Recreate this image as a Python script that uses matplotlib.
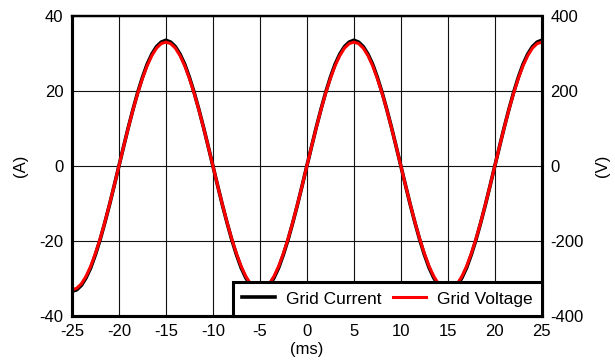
import numpy as np
import matplotlib.pyplot as plt

plt.rcParams['font.family'] = ['Liberation Sans', 'DejaVu Sans']
plt.rcParams['axes.unicode_minus'] = False

# time axis (ms), 0.5 ms steps
t_ms = np.arange(-25, 25.01, 0.5)

# grid voltage (V)
v_grid = [-330, -326, -314, -294, -267, -233, -194, -150, -102, -52,
          0, 52, 102, 150, 194, 233, 267, 294, 314, 326,
          330, 326, 314, 294, 267, 233, 194, 150, 102, 52,
          0, -52, -102, -150, -194, -233, -267, -294, -314, -326,
          -330, -326, -314, -294, -267, -233, -194, -150, -102, -52,
          0, 52, 102, 150, 194, 233, 267, 294, 314, 326,
          330, 326, 314, 294, 267, 233, 194, 150, 102, 52,
          0, -52, -102, -150, -194, -233, -267, -294, -314, -326,
          -330, -326, -314, -294, -267, -233, -194, -150, -102, -52,
          0, 52, 102, 150, 194, 233, 267, 294, 314, 326,
          330]

# grid current (A) (slightly flat-topped)
i_grid = [-33.4, -33.0, -31.8, -29.8, -27.1, -23.6, -19.6, -15.1, -10.3, -5.2,
          0, 5.2, 10.3, 15.1, 19.6, 23.6, 27.1, 29.8, 31.8, 33.0,
          33.5, 33.0, 31.8, 29.8, 27.1, 23.6, 19.6, 15.1, 10.3, 5.2,
          0, -5.2, -10.3, -15.1, -19.6, -23.6, -27.1, -29.8, -31.8, -33.0,
          -33.5, -33.0, -31.8, -29.8, -27.1, -23.6, -19.6, -15.1, -10.3, -5.2,
          0, 5.2, 10.3, 15.1, 19.6, 23.6, 27.1, 29.8, 31.8, 33.0,
          33.5, 33.0, 31.8, 29.8, 27.1, 23.6, 19.6, 15.1, 10.3, 5.2,
          0, -5.2, -10.3, -15.1, -19.6, -23.6, -27.1, -29.8, -31.8, -33.0,
          -33.5, -33.0, -31.8, -29.8, -27.1, -23.6, -19.6, -15.1, -10.3, -5.2,
          0, 5.2, 10.3, 15.1, 19.6, 23.6, 27.1, 29.8, 31.8, 33.0,
          33.5]

fig = plt.figure(figsize=(6.15, 3.6), dpi=100)
ax = fig.add_axes([0.117, 0.122, 0.764, 0.834])
ax2 = ax.twinx()

ax.set_xlim(-25, 25)
ax.set_ylim(-40, 40)
ax2.set_ylim(-400, 400)
ax.set_xticks(np.arange(-25, 26, 5))
ax.set_yticks(np.arange(-40, 41, 20))
ax2.set_yticks(np.arange(-400, 401, 200))

ax.grid(True, color='#111111', linewidth=0.8)
ax.set_axisbelow(True)

l1, = ax.plot(t_ms, i_grid, color='black', linewidth=2.6, label='Grid Current')
l2, = ax2.plot(t_ms, v_grid, color='#ff0000', linewidth=2.2, label='Grid Voltage')

for a in (ax, ax2):
    for s in a.spines.values():
        s.set_linewidth(2.2)
    a.spines['top'].set_linewidth(1.6)
    a.tick_params(length=0, pad=6, labelsize=12)

ax.set_ylabel('(A)', fontsize=12, labelpad=8)
ax2.set_ylabel('(V)', fontsize=12, labelpad=8)
ax.set_xlabel('(ms)', fontsize=12, labelpad=2)

leg = ax2.legend(handles=[l1, l2], loc='lower right', ncol=2, borderaxespad=0,
                 fancybox=False, edgecolor='black', framealpha=1, fontsize=12.5,
                 handlelength=1.9, handletextpad=0.6, columnspacing=0.7,
                 borderpad=0.55)
leg.get_frame().set_linewidth(2.2)

fig.savefig('out.png', dpi=100)
